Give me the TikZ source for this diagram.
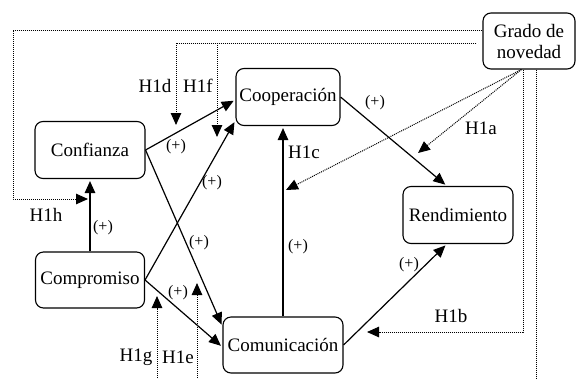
\documentclass[tikz,border=0pt]{standalone}
\usepackage{fontspec}
\setmainfont{Liberation Serif}
\usetikzlibrary{arrows.meta}
\tikzset{
  caja/.style={draw,line width=1.1pt,rounded corners=8pt,align=center,
    inner sep=0pt,font=\fontsize{19}{21}\selectfont},
  efecto/.style={-{Triangle[length=12pt,width=10.5pt]},line width=1.2pt,shorten >=2pt},
  moder/.style={-{Triangle[length=12pt,width=10.5pt]},line width=1pt,
    dash pattern=on 1pt off 1pt},
  linea/.style={line width=1pt,dash pattern=on 1pt off 1pt},
  hip/.style={font=\fontsize{19}{21}\selectfont,inner sep=0pt},
  signo/.style={font=\fontsize{16}{18}\selectfont,inner sep=0pt},
}
\newcommand{\Signo}[2]{\node[signo] (#1) at (#2) {(+)};}
\newcommand{\Hip}[3]{\node[hip] (#1) at (#2) {#3};}

\begin{document}
\begin{tikzpicture}[x=1pt,y=-1pt]
\useasboundingbox (0,0) rectangle (577,378);
% variables
\node[caja,minimum width=110pt,minimum height=57pt] (conf) at (90,150) {Confianza};
\node[caja,minimum width=104pt,minimum height=57pt] (coop) at (288,97) {Cooperación};
\node[caja,minimum width=92pt,minimum height=56pt] (grado) at (529,41) {Grado de\\novedad};
\node[caja,minimum width=110pt,minimum height=57pt] (rend) at (458,215) {Rendimiento};
\node[caja,minimum width=109pt,minimum height=56pt] (comp) at (90,280) {Compromiso};
\node[caja,minimum width=120pt,minimum height=56pt] (comu) at (283,345) {Comunicación};

% direct effects
\draw[efecto] (conf.east) -- (coop.183);
\draw[efecto] (comp.east) -- (coop.204);
\draw[efecto] (conf.east) -- (comu.163);
\draw[efecto] (comp.east) -- (comu.182);
\draw[efecto] (comp.north) -- (conf.south);
\draw[efecto] (comu.north) -- (comu.north |- coop.south);
\draw[efecto] (coop.east) -- (rend.111);
\draw[efecto] (comu.east) -- (rend.249);

% arrow ends of the moderating links
\coordinate (fh) at (88,199);
\coordinate (fd) at (176,125);
\coordinate (ff) at (217,137);
\coordinate (fa) at (418,153);
\coordinate (fc) at (286,190);
\coordinate (fb) at (367,332);
\coordinate (fg) at (157,296);
\coordinate (fe) at (197,283);
% lines leaving the bottom edge
\coordinate (sg) at (157,378);
\coordinate (se) at (197,378);
\coordinate (sn) at (536,378);

% moderating links
\draw[moder] (grado.167) -| (13,199) -- (fh);
\draw[moder,shorten <=6pt] (grado.183) -| (fd);
\draw[moder] (ff |- grado.183) -- (ff);
\draw[moder] (grado.255) -- (fa);
\draw[moder] (grado.255) -- (fc);
\draw[moder] (grado.south -| 523,0) |- (fb);
\draw[linea] (grado.south -| sn) -- (sn);
\draw[moder] (sg) -- (fg);
\draw[moder] (se) -- (fe);

% signs
\Signo{s1}{176,147}
\Signo{s2}{212,183}
\Signo{s3}{103,228}
\Signo{s4}{199,243}
\Signo{s5}{178,293}
\Signo{s6}{298,247}
\Signo{s7}{375,103}
\Signo{s8}{409,265}

% hypotheses
\Hip{ha}{481,128}{H1a}
\Hip{hb}{451,316}{H1b}
\Hip{hc}{304,152}{H1c}
\Hip{hd}{155,86}{H1d}
\Hip{he}{178,357}{H1e}
\Hip{hf}{198,86}{H1f}
\Hip{hg}{136,357}{H1g}
\Hip{hh}{46,215}{H1h}
\end{tikzpicture}
\end{document}
